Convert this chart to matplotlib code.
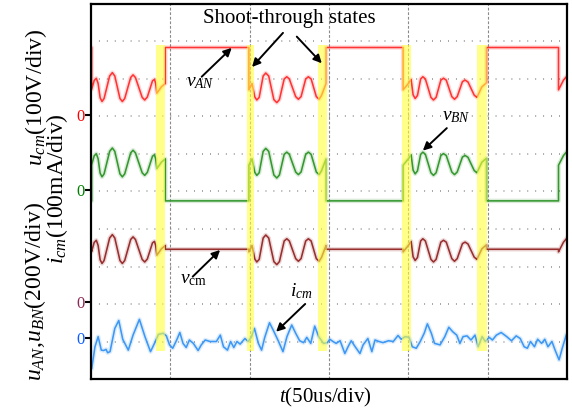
import matplotlib.pyplot as plt
import numpy as np

plt.rcParams['font.family'] = ['Liberation Serif', 'DejaVu Serif']
plt.rcParams['mathtext.fontset'] = 'custom'
plt.rcParams['mathtext.rm'] = 'Liberation Serif'
plt.rcParams['mathtext.it'] = 'Liberation Serif:italic'
plt.rcParams['mathtext.bf'] = 'Liberation Serif:bold'

# time axis in divisions (50us/div), amplitude in screen divisions
flat_on = [0.000, 0.937, 2.963, 4.985]
flat_off = [0.008, 1.990, 3.934, 5.893]

# switching ripple between the clamped intervals (deviation about channel centre)
ripple_t = [
    [0.008, 0.040, 0.067, 0.090, 0.115, 0.139, 0.165, 0.235, 0.269, 0.300,
     0.365, 0.395, 0.425, 0.500, 0.530, 0.560, 0.645, 0.677, 0.710, 0.775,
     0.800, 0.815, 0.830, 0.887, 0.937],
    [1.990, 2.030, 2.065, 2.090, 2.120, 2.170, 2.203, 2.240, 2.305, 2.342,
     2.375, 2.435, 2.468, 2.500, 2.580, 2.614, 2.648, 2.706, 2.740, 2.775,
     2.840, 2.875, 2.905, 2.963],
    [3.934, 4.000, 4.035, 4.060, 4.086, 4.115, 4.155, 4.183, 4.215, 4.285,
     4.317, 4.350, 4.410, 4.443, 4.478, 4.548, 4.582, 4.616, 4.682, 4.716,
     4.752, 4.830, 4.864, 4.927, 4.985],
    [5.893, 5.956, 6.000],
]
ripple_dev = [
    [-0.06, 0.18, 0.24, 0.10, -0.28, -0.38, -0.30, 0.30, 0.39, 0.30,
     -0.30, -0.38, -0.30, 0.26, 0.33, 0.26, -0.27, -0.34, -0.26, 0.17,
     0.21, 0.10, -0.16, 0.01, 0.10],
    [-0.07, 0.10, -0.26, -0.34, -0.27, 0.30, 0.38, 0.30, -0.33, -0.41,
     -0.33, 0.22, 0.28, 0.22, -0.25, -0.32, -0.25, 0.22, 0.28, 0.22,
     -0.25, -0.32, -0.22, 0.10],
    [-0.07, 0.10, 0.21, -0.20, -0.30, -0.22, 0.22, 0.28, 0.22, -0.27,
     -0.34, -0.27, 0.19, 0.24, 0.19, -0.25, -0.32, -0.25, 0.15, 0.19,
     0.14, -0.21, -0.27, 0.01, 0.12],
    [-0.07, 0.19, 0.30],
]

# channels: v_AN (red), v_BN (green), v_cm (dark red)
ripple_centre = [7.78, 5.77, 3.46]
flat_level = [8.84, 4.75, 3.46]
trace_colors = ['#ff3434', '#35982f', '#992e2e']

# common-mode current
icm_t = [0.01, 0.05, 0.09, 0.13, 0.16, 0.19, 0.21, 0.24, 0.30, 0.35,
         0.40, 0.47, 0.53, 0.61, 0.68, 0.75, 0.80, 0.85, 0.91, 0.95,
         0.99, 1.03, 1.08, 1.12, 1.16, 1.20, 1.24, 1.29, 1.35, 1.39,
         1.44, 1.50, 1.58, 1.63, 1.67, 1.72, 1.76, 1.80, 1.84, 1.88,
         1.94, 1.98, 2.02, 2.06, 2.11, 2.15, 2.19, 2.25, 2.30, 2.36,
         2.42, 2.47, 2.53, 2.58, 2.63, 2.68, 2.72, 2.77, 2.82, 2.87,
         2.93, 2.98, 3.01, 3.05, 3.09, 3.14, 3.20, 3.24, 3.28, 3.33,
         3.39, 3.43, 3.49, 3.54, 3.58, 3.63, 3.68, 3.75, 3.81, 3.87,
         3.91, 3.96, 4.01, 4.05, 4.10, 4.15, 4.20, 4.24, 4.29, 4.33,
         4.40, 4.46, 4.51, 4.56, 4.61, 4.65, 4.69, 4.74, 4.79, 4.84,
         4.88, 4.93, 4.97, 5.02, 5.06, 5.11, 5.17, 5.24, 5.30, 5.36,
         5.41, 5.46, 5.50, 5.54, 5.59, 5.63, 5.68, 5.72, 5.76, 5.81,
         5.85, 5.90, 5.94, 5.99]
icm_v = [0.29, 0.86, 1.13, 0.77, 0.76, 0.79, 0.70, 0.73, 1.35, 1.56,
         1.06, 0.77, 1.17, 1.59, 1.13, 0.73, 0.95, 1.19, 1.22, 1.15,
         0.91, 0.82, 1.04, 1.24, 0.95, 0.84, 1.04, 0.95, 0.76, 0.91,
         1.04, 1.00, 1.00, 1.17, 0.86, 0.77, 1.00, 0.84, 1.00, 0.93,
         1.08, 1.00, 1.11, 1.35, 0.95, 0.77, 1.11, 1.50, 1.29, 1.02,
         0.73, 1.13, 1.44, 1.22, 1.02, 0.97, 1.11, 0.95, 1.41, 1.13,
         0.95, 0.97, 1.06, 1.00, 0.95, 1.02, 0.68, 0.86, 1.02, 0.86,
         0.68, 0.91, 1.08, 0.73, 1.04, 1.00, 0.97, 1.02, 1.00, 1.16,
         1.06, 1.13, 1.11, 0.86, 0.82, 1.00, 1.22, 1.47, 1.22, 0.95,
         0.91, 1.13, 1.38, 1.26, 1.17, 0.95, 1.13, 1.15, 1.04, 1.17,
         0.86, 1.13, 1.00, 1.11, 1.04, 1.17, 1.24, 1.13, 1.02, 1.15,
         1.08, 0.86, 0.82, 1.00, 0.86, 1.06, 0.95, 1.06, 0.86, 1.00,
         0.77, 0.51, 0.82, 1.17]
icm_color = '#3d98f5'

# channel zero markers
zero_levels = [7.05, 5.05, 2.05, 1.09]
zero_colors = ['#ff0000', '#008000', '#8b2a55', '#0a5cff']

# shoot-through intervals
bar_start = [0.824, 1.963, 2.859, 3.918, 4.871]
bar_end = [0.937, 2.056, 2.972, 4.035, 4.990]
bar_bottom = 0.75
bar_top = 8.90


def build_trace(centre, level):
    t, v = [], []
    for i in range(len(ripple_t)):
        t += [flat_on[i], flat_off[i]]
        v += [level, level]
        t += ripple_t[i]
        v += [centre + d for d in ripple_dev[i]]
    return t, v


def draw_line(ax, t, v, color):
    ax.plot(t, v, color=color, lw=3.2, alpha=0.18, solid_joinstyle='round', zorder=2)
    ax.plot(t, v, color=color, lw=1.15, solid_joinstyle='round', zorder=2)


fig = plt.figure(figsize=(5.72, 4.11), dpi=100)
ax = fig.add_axes([91 / 572, 32 / 411, 476 / 572, 375 / 411])
ax.set_xlim(0, 6)
ax.set_ylim(0, 10)

# scope graticule
ax.hlines(np.arange(1, 10), 0, 6, colors='#9a9a9a', lw=1.4,
          linestyles=[(0, (0.45, 3.63))], zorder=1)
ax.vlines(np.arange(1, 6), 0, 10, colors='#8a8a8a', lw=0.8,
          linestyles=[(0, (2.5, 1.6))], zorder=1)

for centre, level, color in zip(ripple_centre, flat_level, trace_colors):
    t, v = build_trace(centre, level)
    draw_line(ax, t, v, color)
draw_line(ax, icm_t, icm_v, icm_color)

widths = [e - s for s, e in zip(bar_start, bar_end)]
ax.bar(bar_start, bar_top - bar_bottom, width=widths, bottom=bar_bottom,
       align='edge', color='#ffff3a', alpha=0.6, lw=0, zorder=3)

for side in ax.spines.values():
    side.set_linewidth(1.6)
ax.set_xticks([])
ax.set_yticks(zero_levels)
ax.set_yticklabels(['0'] * len(zero_levels), fontsize=12)
ax.tick_params(axis='y', length=4, width=1.5, pad=0.5)
for tick, color in zip(ax.yaxis.get_major_ticks(), zero_colors):
    tick.tick1line.set_color(color)
    tick.label1.set_color(color)

arrow = dict(arrowstyle='-|>', color='black', lw=1.4, mutation_scale=12,
             shrinkA=0, shrinkB=0)
ax.text(2.497, 9.6, 'Shoot-through states', fontsize=15, ha='center', va='center', zorder=5)
ax.annotate('', xy=(2.03, 8.32), xytext=(2.42, 9.23), arrowprops=arrow, zorder=5)
ax.annotate('', xy=(2.909, 8.42), xytext=(2.594, 9.13), arrowprops=arrow, zorder=5)

ax.text(1.375, 7.92, r'$v_{AN}$', fontsize=14, ha='center', va='center', zorder=5)
ax.annotate('', xy=(1.774, 8.83), xytext=(1.395, 8.06), arrowprops=arrow, zorder=5)

ax.text(4.60, 7.01, r'$v_{BN}$', fontsize=14, ha='center', va='center', zorder=5)
ax.annotate('', xy=(4.183, 6.09), xytext=(4.485, 6.69), arrowprops=arrow, zorder=5)

ax.text(1.293, 2.64, r'$v_{\mathrm{cm}}$', fontsize=14, ha='center', va='center', zorder=5)
ax.annotate('', xy=(1.627, 3.44), xytext=(1.282, 2.73), arrowprops=arrow, zorder=5)

ax.text(2.65, 2.35, r'$i_{cm}$', fontsize=14, ha='center', va='center', zorder=5)
ax.annotate('', xy=(2.333, 1.26), xytext=(2.699, 2.0), arrowprops=arrow, zorder=5)

fig.text(325 / 572, 1 - 397 / 411, r'$t$(50us/div)', fontsize=15, ha='center', va='center')
fig.text(36 / 572, 1 - 97 / 411, r'$u_{cm}$(100V/div)', fontsize=17,
         rotation=90, ha='center', va='center')
fig.text(35 / 572, 1 - 292 / 411, r'$u_{AN}$,$u_{BN}$(200V/div)', fontsize=17,
         rotation=90, ha='center', va='center')
fig.text(57 / 572, 1 - 189 / 411, r'$i_{cm}$(100mA/div)', fontsize=17,
         rotation=90, ha='center', va='center')

fig.savefig('out.png', dpi=100)
